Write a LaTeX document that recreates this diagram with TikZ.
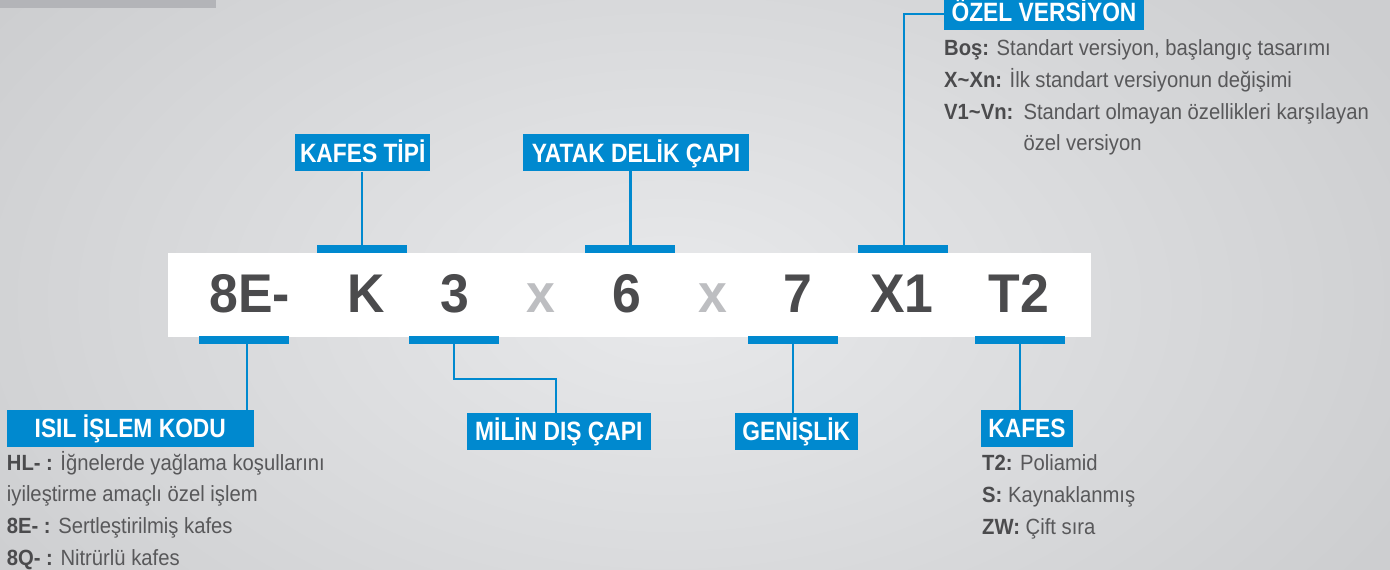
\documentclass[tikz,border=0pt]{standalone}
\usepackage{fontspec}
\setmainfont{Liberation Sans}
\newfontfamily\descfont{Liberation Sans}[FakeStretch=0.92]
\newfontfamily\lblfont{Liberation Sans}[FakeStretch=0.86]
\newfontfamily\bigfont{Liberation Sans}[FakeStretch=0.95]
\definecolor{brandblue}{RGB}{0,137,207}
\definecolor{darktext}{HTML}{4B4B4D}
\definecolor{desctext}{HTML}{58585A}
\definecolor{lightx}{HTML}{BDBEC1}
\definecolor{bgin}{HTML}{E8E9EB}
\definecolor{bgout}{HTML}{CDCED0}
\definecolor{greybar}{HTML}{B3B4B8}
\tikzset{
  lblbox/.style={fill=brandblue, text=white, font=\lblfont\bfseries\fontsize{26.5}{26.5}\selectfont,
    inner sep=0pt, minimum height=37pt, text height=19pt, text depth=0pt, align=center},
  barbox/.style={fill=brandblue, inner sep=0pt, minimum width=90pt, minimum height=8pt},
  conn/.style={draw=brandblue, line width=2.4pt},
  bigtxt/.style={font=\bigfont\bfseries\fontsize{54.5}{54.5}\selectfont, text=darktext, inner sep=0pt, anchor=base},
  xtxt/.style={bigtxt, text=lightx},
  desc/.style={font=\descfont\fontsize{22}{22}\selectfont, text=desctext, inner sep=0pt, anchor=base west},
  keyword/.style={}
}
\newcommand{\kw}[1]{{\bfseries\color{darktext}#1}}
\begin{document}
\begin{tikzpicture}[x=1pt,y=-1pt]
\useasboundingbox (0,0) rectangle (1390,570);
\clip (0,0) rectangle (1390,570);
% background
\shade[inner color=bgin, outer color=bgout] (-150,-200) rectangle (1490,800);
\fill[greybar] (0,0) rectangle (216,8);
% white code band
\fill[white] (168,253) rectangle (1091,337);

% bars
\node[barbox] (barK)  at (362,249) {};
\node[barbox] (bar6)  at (630.3,249) {};
\node[barbox] (barX1) at (903.3,249) {};
\node[barbox] (bar8E) at (244,340) {};
\node[barbox] (bar3)  at (454,340) {};
\node[barbox] (bar7)  at (793,340) {};
\node[barbox] (barT2) at (1019.7,340) {};

% label boxes
\node[lblbox, minimum width=134.7pt] (kafestipi) at (362.7,152.8) {KAFES TİPİ};
\node[lblbox, minimum width=225.4pt] (yatak) at (636,152.7) {YATAK DELİK ÇAPI};
\node[lblbox, minimum width=200pt] (ozel) at (1044,11.5) {ÖZEL VERSİYON};
\node[lblbox, minimum width=247.3pt] (isil) at (130.3,428.3) {ISIL İŞLEM KODU};
\node[lblbox, minimum width=183.7pt] (milin) at (558.8,431.3) {MİLİN DIŞ ÇAPI};
\node[lblbox, minimum width=122.7pt] (genislik) at (796.3,431.3) {GENİŞLİK};
\node[lblbox, minimum width=92pt] (kafes) at (1027,428.3) {KAFES};

% connectors
\draw[conn] (barK.north) -- (barK.north |- kafestipi.south);
\draw[conn] (bar6.north) -- (bar6.north |- yatak.south);
\coordinate (bendX1) at (904,14);
\draw[conn] (bendX1 |- barX1.north) -- (bendX1) -- (bendX1 -| ozel.west);
\coordinate (drop8E) at (247,340);
\draw[conn] (drop8E |- bar8E.south) -- (drop8E |- isil.north);
\coordinate (bend3) at (556,379);
\draw[conn] (bar3.south) |- (bend3) -- (bend3 |- milin.north);
\draw[conn] (bar7.south) -- (bar7.south |- genislik.north);
\draw[conn] (barT2.south) -- (barT2.south |- kafes.north);

% code
\node[bigtxt] (c8E) at (249.7,312.5) {8E-};
\node[bigtxt] (cK)  at (366,312.5) {K};
\node[bigtxt] (c3)  at (455,312.5) {3};
\node[xtxt]   (cx1) at (540.5,312.5) {x};
\node[bigtxt] (c6)  at (627,312.5) {6};
\node[xtxt]   (cx2) at (712.5,312.5) {x};
\node[bigtxt] (c7)  at (798,312.5) {7};
\node[bigtxt] (cX1) at (902,312.5) {X1};
\node[bigtxt] (cT2) at (1019,312.5) {T2};

% ISIL descriptions
\node[desc] (d1) at (6.7,470.7) {\kw{HL- :} İğnelerde yağlama koşullarını};
\node[desc] (d2) at (6.7,501.7) {iyileştirme amaçlı özel işlem};
\node[desc] (d3) at (6.7,533) {\kw{8E- :} Sertleştirilmiş kafes};
\node[desc] (d4) at (6.7,565) {\kw{8Q- :} Nitrürlü kafes};

% OZEL descriptions
\node[desc] (o1) at (944,55) {\kw{Boş:} Standart versiyon, başlangıç tasarımı};
\node[desc] (o2) at (944,87.3) {\kw{X\textasciitilde Xn:} İlk standart versiyonun değişimi};
\node[desc] (o3) at (944,119.3) {\makebox[79.3pt][l]{\kw{V1\textasciitilde Vn:}}Standart olmayan özellikleri karşılayan};
\node[desc] (o4) at (1023.3,150) {özel versiyon};

% KAFES descriptions
\node[desc] (k1) at (982,470.7) {\kw{T2:} Poliamid};
\node[desc] (k2) at (982,502) {\kw{S:} Kaynaklanmış};
\node[desc] (k3) at (982,534) {\kw{ZW:} Çift sıra};
\end{tikzpicture}
\end{document}
